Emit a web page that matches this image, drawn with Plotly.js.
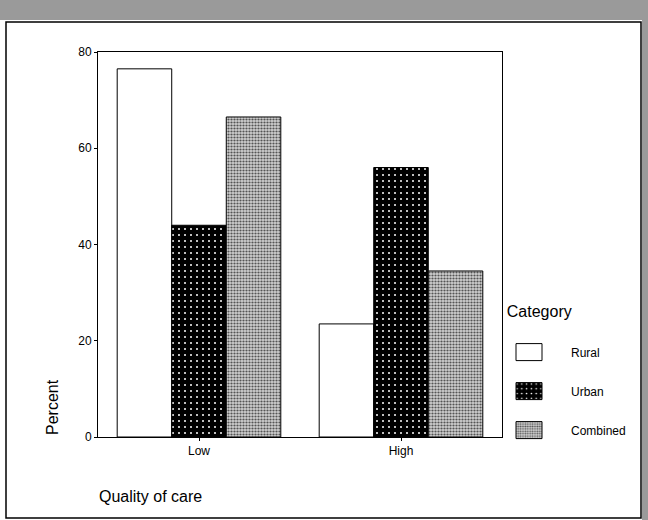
<!DOCTYPE html>
<html>
<head>
<meta charset="utf-8">
<script src="https://cdn.plot.ly/plotly-3.0.1.min.js"></script>
<style>html,body{margin:0;padding:0;background:#fff;}#chart{width:648px;height:520px;}</style>
</head>
<body>
<div id="chart"></div>
<script>
const categories = ["Low", "High"];
const seriesNames = ["Rural", "Urban", "Combined"];
const rural = [76.5, 23.5];
const urban = [44, 56];
const combined = [66.5, 34.5];
const yTicks = [0, 20, 40, 60, 80];

const L = 98, R = 502, T = 52, B = 437;
const px = x => (x - L) / (R - L);
const py = y => (B - y) / (B - T);

const line = {color: "#000", width: 1};
const traces = [
  {type: "bar", name: seriesNames[0], x: categories, y: rural, legendgroup: "a",
   marker: {color: "#ffffff", line: line}},
  {type: "bar", name: seriesNames[1], x: categories, y: urban, legendgroup: "b",
   marker: {color: "#000000", line: line,
            pattern: {shape: ".", bgcolor: "#000000", fgcolor: "#ffffff", size: 6, solidity: 0.09}}},
  {type: "bar", name: seriesNames[2], x: categories, y: combined, legendgroup: "c",
   marker: {color: "#bcbcbc", line: line,
            pattern: {shape: ".", bgcolor: "#d0d0d0", fgcolor: "#555555", size: 3, solidity: 0.42}}}
];

const layout = {
  width: 648, height: 520,
  margin: {l: L, r: 648 - R, t: T, b: 520 - B, pad: 0},
  paper_bgcolor: "#ffffff", plot_bgcolor: "#ffffff",
  font: {family: "Liberation Sans, Arial, sans-serif", color: "#000", size: 12},
  barmode: "group", bargap: 0.19, bargroupgap: 0,
  showlegend: true,
  legend: {x: px(487), xanchor: "left", y: py(296), yanchor: "top",
           title: {text: "&nbsp;&nbsp;&nbsp;&nbsp;Category<br>&nbsp;", font: {size: 16}},
           font: {size: 12}, itemwidth: 74, tracegroupgap: 20, traceorder: "grouped",
           bgcolor: "rgba(0,0,0,0)"},
  xaxis: {type: "category", showline: true, linecolor: "#000", linewidth: 1, mirror: true,
          ticks: "outside", ticklen: 3, tickcolor: "#000", tickfont: {size: 12},
          showgrid: false, zeroline: false, fixedrange: true},
  yaxis: {range: [0, 80], tickvals: yTicks, ticktext: yTicks.map(String),
          showline: true, linecolor: "#000", linewidth: 1, mirror: true,
          ticks: "outside", ticklen: 3, tickcolor: "#000", tickfont: {size: 12},
          showgrid: false, zeroline: false, fixedrange: true},
  annotations: [
    {text: "Percent", xref: "paper", yref: "paper", x: px(52), y: py(437), xanchor: "center", yanchor: "bottom",
     textangle: -90, showarrow: false, font: {size: 16}},
    {text: "Quality of care", xref: "paper", yref: "paper", x: px(97), y: py(496), xanchor: "left", yanchor: "middle",
     showarrow: false, font: {size: 16}}
  ],
  shapes: [
    {type: "rect", xref: "paper", yref: "paper", x0: px(6), x1: px(641), y0: py(518), y1: py(22),
     line: {color: "#000", width: 1.5}, fillcolor: "rgba(0,0,0,0)", layer: "below"},
    {type: "rect", xref: "paper", yref: "paper", x0: px(0), x1: px(648), y0: py(20), y1: py(0),
     line: {width: 0}, fillcolor: "#9a9a9a", layer: "below"},
    {type: "rect", xref: "paper", yref: "paper", x0: px(642), x1: px(648), y0: py(520), y1: py(0),
     line: {width: 0}, fillcolor: "#9a9a9a", layer: "below"}
  ]
};

Plotly.newPlot("chart", traces, layout, {displayModeBar: false, staticPlot: true}).then(gd => {
  gd.querySelectorAll(".legend .legendpoints path").forEach(p => {
    p.setAttribute("d", "M13,8.5H-13V-8.5H13Z");
  });
});
</script>
</body>
</html>
